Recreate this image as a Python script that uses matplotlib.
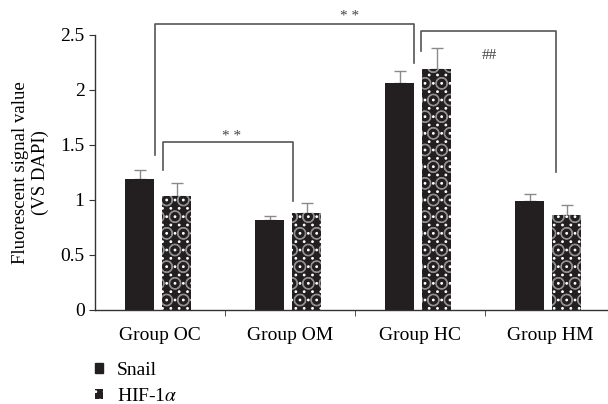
import numpy as np
import matplotlib
matplotlib.use("Agg")
import matplotlib.pyplot as plt
from matplotlib.patches import Patch

plt.rcParams['font.family'] = ['Liberation Serif', 'DejaVu Serif']
plt.rcParams['mathtext.fontset'] = 'stix'
plt.rcParams['hatch.linewidth'] = 0.8

groups = ['Group OC', 'Group OM', 'Group HC', 'Group HM']
snail = [1.19, 0.82, 2.06, 0.99]
snail_err = [0.08, 0.03, 0.11, 0.06]
hif = [1.03, 0.88, 2.19, 0.86]
hif_err = [0.12, 0.09, 0.19, 0.09]

dark = '#231f20'
grey = '#8a8a8a'
fs = 14

fig = plt.figure(figsize=(6.08, 4.04), dpi=100)
ax = fig.add_axes([95 / 608, 1 - 310 / 404, 513 / 608, 275.5 / 404])

x = np.arange(len(groups))
w = 0.223
ax.bar(x - 0.155, snail, w, color=dark, zorder=2)
ax.bar(x + 0.13, hif, w, color=dark, edgecolor='#8f8f8f', hatch='O', linewidth=0, zorder=2)
ax.bar(x + 0.13, hif, w, color='none', edgecolor='white', hatch='..', linewidth=0, zorder=3)
ax.errorbar(x - 0.155, snail, yerr=[[0] * 4, snail_err], fmt='none', ecolor=grey,
            elinewidth=1, capsize=4, capthick=1, zorder=1)
ax.errorbar(x + 0.13, hif, yerr=[[0] * 4, hif_err], fmt='none', ecolor=grey,
            elinewidth=1, capsize=4, capthick=1, zorder=1)

ax.set_xlim(-0.5, -0.5 + 513 / 130)
ax.set_ylim(0, 2.5)
ax.set_yticks([0, 0.5, 1, 1.5, 2, 2.5])
ax.set_yticklabels(['0', '0.5', '1', '1.5', '2', '2.5'])
ax.set_xticks(x)
ax.set_xticklabels(groups)
ax.set_xticks([0.5, 1.5, 2.5], minor=True)
ax.tick_params(axis='x', which='major', length=0, pad=12, labelsize=fs)
ax.tick_params(axis='x', which='minor', length=4, color='#333333')
ax.tick_params(axis='y', length=4, labelsize=fs, color='#333333')
for s in ['top', 'right']:
    ax.spines[s].set_visible(False)
for s in ['left', 'bottom']:
    ax.spines[s].set_color('#333333')
    ax.spines[s].set_linewidth(1)
ax.set_ylabel('Fluorescent signal value\n(VS DAPI)', fontsize=13.5, labelpad=8,
              linespacing=1.2)

# significance brackets
def bracket(x0, x1, y0, ytop, y1, label, lx, ly):
    ax.plot([x0, x0, x1, x1], [y0, ytop, ytop, y1], color='#555555', lw=1.2,
            clip_on=False, zorder=4)
    ax.text(lx, ly, label, ha='center', va='center', fontsize=11, color='#444444')

bracket(-0.038, 1.954, 1.407, 2.595, 2.241, '* *', 1.46, 2.66)
bracket(0.023, 1.023, 1.27, 1.525, 0.99, '* *', 0.55, 1.57)
bracket(2.008, 3.046, 2.35, 2.53, 1.25, '##', 2.53, 2.31)

handles = [Patch(facecolor=dark, edgecolor=dark),
           Patch(facecolor=dark, edgecolor='white', hatch='..', linewidth=0)]
fig.legend(handles, ['Snail', r'HIF-1$\alpha$'], loc='upper left',
           bbox_to_anchor=(87 / 608, 1 - 354 / 404), frameon=False,
           borderaxespad=0, handlelength=0.42, handleheight=0.42,
           handletextpad=0.72, labelspacing=0.45, fontsize=fs)

fig.savefig('out.png', dpi=100)
